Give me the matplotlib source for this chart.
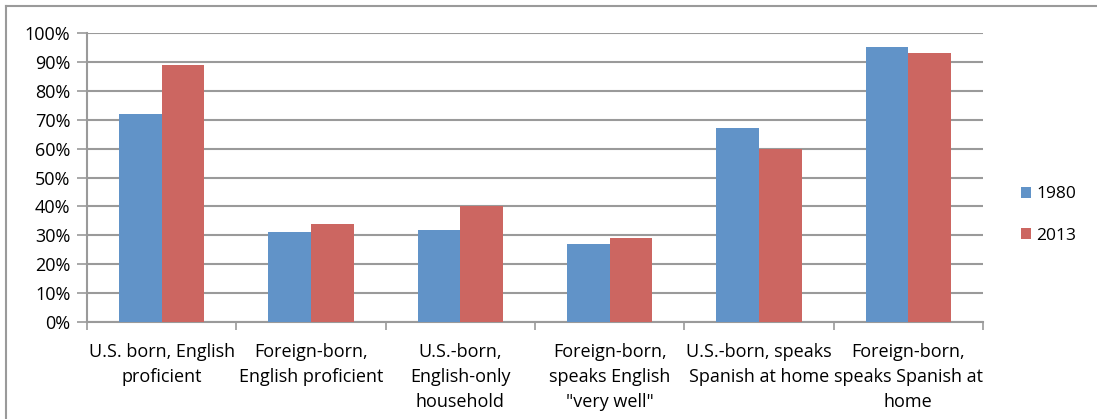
import numpy as np
import matplotlib
matplotlib.use("Agg")
import matplotlib.pyplot as plt
from matplotlib.lines import Line2D
from matplotlib.ticker import PercentFormatter

# Data
categories = ["U.S. born, English\nproficient",
              "Foreign-born,\nEnglish proficient",
              "U.S.-born,\nEnglish-only\nhousehold",
              "Foreign-born,\nspeaks English\n\"very well\"",
              "U.S.-born, speaks\nSpanish at home",
              "Foreign-born,\nspeaks Spanish at\nhome"]
series_names = ["1980", "2013"]
values_1980 = [72, 31, 32, 27, 67, 95]
values_2013 = [89, 34, 40, 29, 60, 93]

colors = ["#6193c8", "#cc6661"]
grid_col = "#9a9a9a"

plt.rcParams['font.family'] = ['Open Sans', 'DejaVu Sans']

fig = plt.figure(figsize=(10.97, 4.19), dpi=100)
ax = fig.add_axes([87/1097, 1-322/419, (983-87)/1097, (322-33)/419])

x = np.arange(len(categories))
w = 1/3.5
ax.bar(x - w/2, values_1980, w, color=colors[0], label=series_names[0], zorder=3)
ax.bar(x + w/2, values_2013, w, color=colors[1], label=series_names[1], zorder=3)

ax.set_xlim(-0.5, len(categories)-0.5)
ax.set_ylim(0, 100)
ax.set_yticks(np.arange(0, 101, 10))
ax.yaxis.set_major_formatter(PercentFormatter(decimals=0))
ax.yaxis.grid(True, color=grid_col, linewidth=1.5, zorder=0)

ax.set_xticks(np.arange(-0.5, len(categories), 1.0))
ax.set_xticklabels([])
ax.set_xticks(x, minor=True)
ax.set_xticklabels(categories, minor=True, fontsize=13, linespacing=1.5, va='top')
ax.tick_params(axis='x', which='minor', length=0, pad=15)
ax.tick_params(axis='x', which='major', length=6, width=1.2, color=grid_col, direction='out')
ax.tick_params(axis='y', length=7, width=1.2, color=grid_col, labelsize=13, pad=5)

for s in ['top', 'right']:
    ax.spines[s].set_visible(False)
for s in ['left', 'bottom']:
    ax.spines[s].set_color(grid_col)
    ax.spines[s].set_linewidth(1.5)

ax.legend(loc='center left', bbox_to_anchor=(1014/1097, 1-215/419), bbox_transform=fig.transFigure,
          frameon=False, fontsize=12.5, handlelength=0.6, handleheight=0.6, labelspacing=1.45,
          handletextpad=0.3, borderaxespad=0)

# outer chart border
fig.add_artist(Line2D([6/1097, 1.0], [1-6/419, 1-6/419], color=grid_col, linewidth=1.5))
fig.add_artist(Line2D([6/1097, 6/1097], [1-6/419, 0.0], color=grid_col, linewidth=1.5))

fig.savefig("out.png", dpi=100)
